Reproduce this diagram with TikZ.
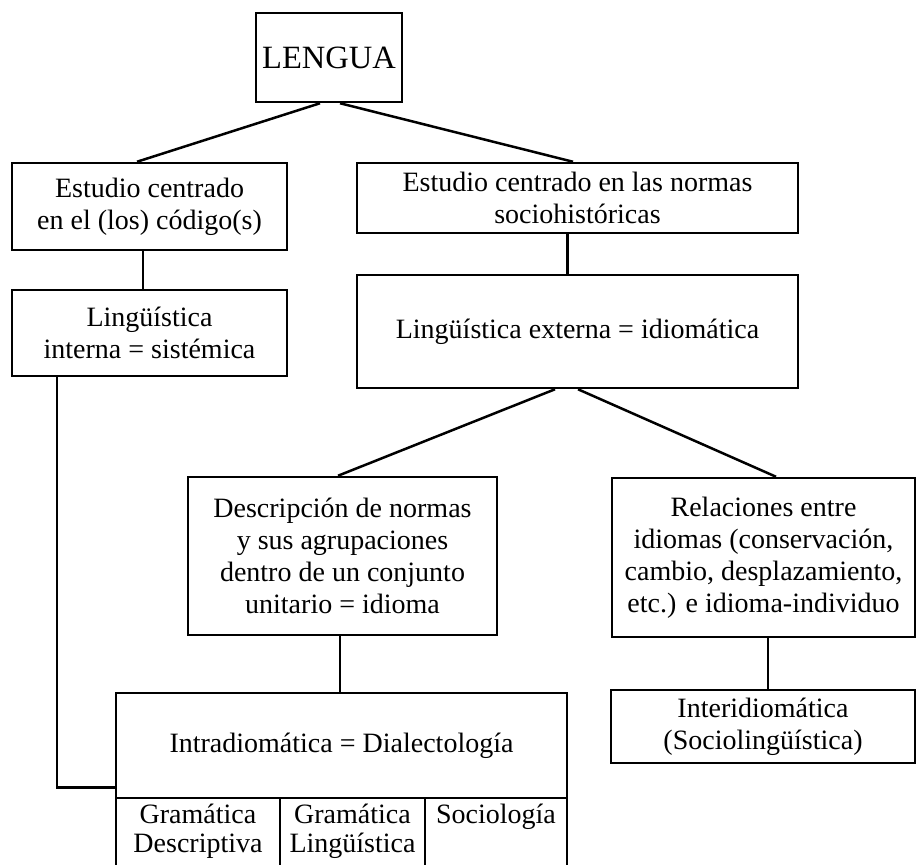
\documentclass[tikz,border=0pt]{standalone}
\usepackage{fontspec}
\setmainfont{Liberation Serif}
\usetikzlibrary{calc}
\begin{document}
\begin{tikzpicture}[x=1pt,y=-1pt,
  box/.style={draw, line width=2.5pt, align=center, inner sep=0pt,
    font=\fontsize{28}{32}\selectfont},
  celltext/.style={align=center, inner sep=0pt, anchor=north,
    font=\fontsize{28}{29}\selectfont},
  conn/.style={line width=2.5pt}]
\useasboundingbox (0,0) rectangle (917,865);

\node[box, minimum width=146pt, minimum height=89pt,
  font=\fontsize{32.5}{36}\selectfont] (lengua) at (329,57.5) {LENGUA};
\node[box, minimum width=275pt, minimum height=87pt] (codigo) at (149.5,206.5)
  {Estudio centrado\\en el (los) código(s)};
\node[box, minimum width=441pt, minimum height=70pt] (normas) at (577.5,198)
  {Estudio centrado en las normas\\sociohistóricas};
\node[box, minimum width=275pt, minimum height=86pt] (interna) at (149.5,333)
  {Lingüística\\interna = sistémica};
\node[box, minimum width=441pt, minimum height=113pt] (externa) at (577.5,331.5)
  {Lingüística externa = idiomática};
\node[box, minimum width=309pt, minimum height=158pt] (descr) at (342.5,556)
  {Descripción de normas\\y sus agrupaciones\\dentro de un conjunto\\unitario = idioma};
\node[box, minimum width=303pt, minimum height=159pt] (relac) at (763.5,557.5)
  {Relaciones entre\\idiomas (conservación,\\cambio, desplazamiento,\\etc.) e idioma-individuo};
\node[box, minimum width=304pt, minimum height=73pt] (interid) at (763,726.5)
  {Interidiomática\\(Sociolingüística)};
\node[box, minimum width=451pt, minimum height=105pt] (intra) at (341.5,745.5)
  {Intradiomática = Dialectología};

% bottom cells
\coordinate (c0t) at (116,798); \coordinate (c0b) at (116,865);
\coordinate (c1t) at (280,798); \coordinate (c1b) at (280,865);
\coordinate (c2t) at (425,798); \coordinate (c2b) at (425,865);
\coordinate (c3t) at (567,798); \coordinate (c3b) at (567,865);
\draw[conn] (c0t) -- (c0b);
\draw[conn] (c1t) -- (c1b);
\draw[conn] (c2t) -- (c2b);
\draw[conn] (c3t) -- (c3b);
\node[celltext] (gdesc) at (198,804) {Gramática\\Descriptiva};
\node[celltext] (gling) at (352.5,804) {Gramática\\Lingüística};
\node[celltext] (socio) at (496,804) {Sociología};

% connectors
\draw[conn] ($(lengua.south)+(-9,0)$) -- ($(codigo.north)+(-12.5,0)$);
\draw[conn] ($(lengua.south)+(11,0)$) -- ($(normas.north)+(-4.5,0)$);
\draw[conn] ($(codigo.south)+(-6.5,0)$) -- ($(interna.north)+(-6.5,0)$);
\draw[conn] ($(normas.south)+(-10,0)$) -- ($(externa.north)+(-10,0)$);
\draw[conn] ($(externa.south)+(-22.5,0)$) -- ($(descr.north)+(-4.5,0)$);
\draw[conn] ($(externa.south)+(0.5,0)$) -- ($(relac.north)+(12.5,0)$);
\draw[conn] ($(descr.south)+(-2.5,0)$) -- ($(intra.north)+(-1.5,0)$);
\draw[conn] ($(relac.south)+(4.5,0)$) -- ($(interid.north)+(5,0)$);
\draw[conn] ($(interna.south)+(-92.5,0)$) |- ($(intra.south west)+(0,-12)$);
\end{tikzpicture}
\end{document}
